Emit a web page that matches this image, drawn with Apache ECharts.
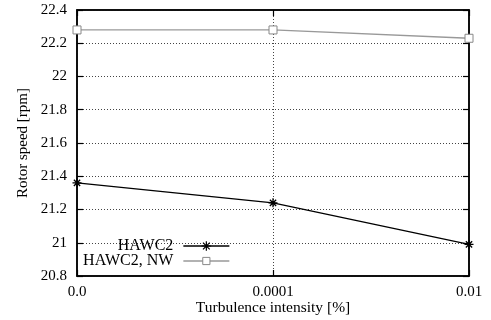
<!DOCTYPE html>
<html>
<head>
<meta charset="utf-8">
<script src="https://cdn.jsdelivr.net/npm/echarts@6/dist/echarts.min.js"></script>
<style>
  html, body { margin: 0; padding: 0; background: #fff; }
  #chart { width: 491px; height: 320px; }
</style>
</head>
<body>
<div id="chart"></div>
<script>
// Turbulence intensity categories and rotor speed results
const turbulence = ['0.0', '0.0001', '0.01'];
const hawc2 = [21.36, 21.24, 20.99];
const hawc2NW = [22.28, 22.28, 22.23];

const yMin = 20.8, yMax = 22.4, yStep = 0.2;
const FONT = 'Liberation Serif';

// asterisk marker: plus + cross
const asterisk = 'path://M0,5L10,5M5,0L5,10M1.5,1.5L8.5,8.5M1.5,8.5L8.5,1.5';

const chart = echarts.init(document.getElementById('chart'), null, { renderer: 'canvas' });

const dotted = { show: true, lineStyle: { color: '#444', width: 1, type: [1, 2] } };

const legendText = { fontFamily: FONT, fontSize: 16, color: '#000', padding: [0, 5, 0, 0] };

chart.setOption({
  animation: false,
  backgroundColor: '#fff',
  textStyle: { fontFamily: FONT },
  grid: {
    left: 77, right: 22, top: 10, bottom: 44,
    containLabel: false, outerBoundsMode: 'none',
    show: true, borderColor: '#000', borderWidth: 1.5, backgroundColor: 'transparent'
  },
  legend: [
    {
      data: ['HAWC2'], align: 'right', right: 256, top: 233,
      itemWidth: 46, itemHeight: 12, textStyle: legendText,
      itemStyle: { borderWidth: 1.2 }, lineStyle: { width: 1.3 }
    },
    {
      data: ['HAWC2, NW'], align: 'right', right: 256, top: 248,
      itemWidth: 46, itemHeight: 9, textStyle: legendText,
      itemStyle: { borderWidth: 1 }, lineStyle: { width: 1.3 }
    }
  ],
  xAxis: [
    {
      type: 'category', data: turbulence, boundaryGap: false,
      name: 'Turbulence intensity [%]', nameLocation: 'middle', nameGap: 24,
      nameMoveOverlap: false,
      nameTextStyle: { fontFamily: FONT, fontSize: 15.5, color: '#000' },
      axisLine: { lineStyle: { color: '#000', width: 1.5 } },
      axisTick: { inside: true, length: 6, lineStyle: { color: '#000', width: 1.2 } },
      axisLabel: { fontFamily: FONT, fontSize: 15, color: '#000', margin: 9 },
      splitLine: dotted
    },
    {
      type: 'category', data: turbulence, boundaryGap: false, position: 'top',
      axisLine: { lineStyle: { color: '#000', width: 1.5 } },
      axisTick: { inside: true, length: 6, lineStyle: { color: '#000', width: 1.2 } },
      axisLabel: { show: false }, splitLine: { show: false }
    }
  ],
  yAxis: [
    {
      type: 'value', min: yMin, max: yMax, interval: yStep,
      name: 'Rotor speed [rpm]', nameLocation: 'middle', nameGap: 46, nameRotate: 90,
      nameMoveOverlap: false,
      nameTextStyle: { fontFamily: FONT, fontSize: 15, color: '#000' },
      axisLine: { show: true, lineStyle: { color: '#000', width: 1.5 } },
      axisTick: { show: true, inside: true, length: 6, lineStyle: { color: '#000', width: 1.2 } },
      axisLabel: {
        fontFamily: FONT, fontSize: 15, color: '#000', margin: 10,
        formatter: v => String(Math.round(v * 10) / 10)
      },
      splitLine: dotted
    },
    {
      type: 'value', min: yMin, max: yMax, interval: yStep, position: 'right',
      axisLine: { show: true, lineStyle: { color: '#000', width: 1.5 } },
      axisTick: { show: true, inside: true, length: 6, lineStyle: { color: '#000', width: 1.2 } },
      axisLabel: { show: false }, splitLine: { show: false }
    }
  ],
  series: [
    {
      name: 'HAWC2', type: 'line', data: hawc2,
      symbol: asterisk, symbolSize: 9,
      lineStyle: { color: '#000', width: 1.3 },
      itemStyle: { color: '#000', borderColor: '#000', borderWidth: 1.3 }
    },
    {
      name: 'HAWC2, NW', type: 'line', data: hawc2NW,
      symbol: 'rect', symbolSize: 8,
      lineStyle: { color: '#999', width: 1.3 },
      itemStyle: { color: '#fff', borderColor: '#888', borderWidth: 1 }
    }
  ]
});
</script>
</body>
</html>
